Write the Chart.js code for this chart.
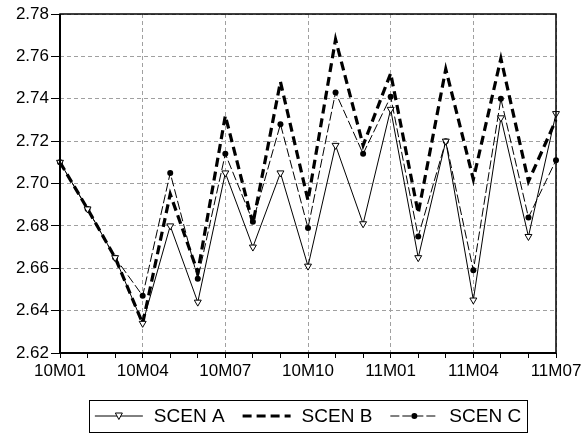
<!DOCTYPE html>
<html>
<head>
<meta charset="utf-8">
<script src="https://cdn.jsdelivr.net/npm/chart.js@4.4.1/dist/chart.umd.min.js"></script>
<style>
  body { margin: 0; background: #fff; }
  #chart { display: block; }
</style>
</head>
<body>
<canvas id="chart" width="586" height="434"></canvas>
<script>
// monthly periods, EViews style
var months = ['10M01', '10M02', '10M03', '10M04', '10M05', '10M06', '10M07', '10M08', '10M09', '10M10',
    '10M11', '10M12', '11M01', '11M02', '11M03', '11M04', '11M05', '11M06', '11M07'];

var scenA = [2.710, 2.688, 2.665, 2.634, 2.680, 2.644, 2.705, 2.670, 2.705, 2.661,
    2.718, 2.681, 2.735, 2.665, 2.720, 2.645, 2.731, 2.675, 2.733];
var scenB = [2.710, 2.688, 2.665, 2.634, 2.695, 2.658, 2.732, 2.681, 2.748, 2.692,
    2.768, 2.718, 2.752, 2.686, 2.754, 2.702, 2.759, 2.701, 2.730];
var scenC = [2.710, 2.688, 2.665, 2.647, 2.705, 2.655, 2.714, 2.682, 2.728, 2.679,
    2.743, 2.714, 2.741, 2.675, 2.720, 2.659, 2.740, 2.684, 2.711];

var seriesNames = ['SCEN A', 'SCEN B', 'SCEN C'];
var yMin = 2.62, yMax = 2.78, yStep = 0.02;

var axisFont = { family: 'Liberation Sans, Arial, sans-serif', size: 17 };
var gridColor = '#a0a0a0';

// box around the plot area
var framePlugin = {
    id: 'frame',
    afterDraw: function (chart) {
        var ctx = chart.ctx, a = chart.chartArea;
        ctx.save();
        ctx.strokeStyle = '#000';
        ctx.lineWidth = 1.5;
        ctx.strokeRect(a.left, a.top, a.right - a.left, a.bottom - a.top);
        ctx.lineWidth = 2;
        ctx.beginPath();
        ctx.moveTo(a.left, a.top);
        ctx.lineTo(a.left, a.bottom);
        ctx.lineTo(a.right, a.bottom);
        ctx.stroke();
        ctx.restore();
    }
};

// legend in a box under the x axis
var boxLegend = {
    id: 'boxLegend',
    afterDraw: function (chart) {
        var ctx = chart.ctx, a = chart.chartArea;
        var sample = 48, gap = 11, spacing = 18, pad = 6;
        ctx.save();
        ctx.font = '19px Liberation Sans, Arial, sans-serif';
        var widths = chart.data.datasets.map(function (ds) { return ctx.measureText(ds.label).width; });
        var total = pad * 2;
        widths.forEach(function (w, i) { total += sample + gap + w + (i < widths.length - 1 ? spacing : 0); });
        var x0 = (a.left + a.right) / 2 - total / 2;
        var top = 400, bottom = 432, cy = (top + bottom) / 2;
        ctx.strokeStyle = '#000';
        ctx.lineWidth = 1;
        ctx.strokeRect(Math.round(x0) + 0.5, top + 0.5, Math.round(total), bottom - top);
        var x = x0 + pad;
        chart.data.datasets.forEach(function (ds, i) {
            ctx.save();
            ctx.strokeStyle = '#000';
            ctx.lineWidth = ds.borderWidth;
            ctx.setLineDash(ds.borderDash || []);
            ctx.beginPath();
            ctx.moveTo(x, cy);
            ctx.lineTo(x + sample, cy);
            ctx.stroke();
            ctx.setLineDash([]);
            var mx = x + sample / 2;
            if (ds.pointStyle === 'triangle') {
                ctx.fillStyle = '#fff';
                ctx.lineWidth = 1;
                ctx.beginPath();
                ctx.moveTo(mx - 3.5, cy - 3);
                ctx.lineTo(mx + 3.5, cy - 3);
                ctx.lineTo(mx, cy + 3.5);
                ctx.closePath();
                ctx.fill();
                ctx.stroke();
            } else if (ds.pointStyle === 'circle') {
                ctx.fillStyle = '#000';
                ctx.beginPath();
                ctx.arc(mx, cy, 3, 0, Math.PI * 2);
                ctx.fill();
            }
            ctx.restore();
            x += sample + gap;
            ctx.fillStyle = '#000';
            ctx.textBaseline = 'middle';
            ctx.fillText(ds.label, x, cy + 1);
            x += widths[i] + spacing;
        });
        ctx.restore();
    }
};

new Chart(document.getElementById('chart'), {
    type: 'line',
    data: {
        labels: months,
        datasets: [{
            label: seriesNames[0],
            data: scenA,
            borderColor: '#000',
            borderWidth: 1,
            pointStyle: 'triangle',
            rotation: 180,
            pointRadius: 4,
            pointBackgroundColor: '#fff',
            pointBorderColor: '#000',
            pointBorderWidth: 1,
            tension: 0,
            order: 1
        }, {
            label: seriesNames[1],
            data: scenB,
            borderColor: '#000',
            borderWidth: 3.2,
            borderDash: [9, 5],
            pointRadius: 0,
            tension: 0,
            order: 3
        }, {
            label: seriesNames[2],
            data: scenC,
            borderColor: '#000',
            borderWidth: 1,
            borderDash: [9, 3],
            pointStyle: 'circle',
            pointRadius: 3,
            pointBackgroundColor: '#000',
            pointBorderColor: '#000',
            pointBorderWidth: 0,
            tension: 0,
            order: 2
        }]
    },
    options: {
        responsive: false,
        animation: false,
        layout: { padding: { top: 14, right: 30, left: 0, bottom: 0 } },
        plugins: {
            legend: { display: false },
            tooltip: { enabled: false }
        },
        scales: {
            x: {
                grid: {
                    color: function (c) { return c.index % 3 === 0 ? gridColor : 'transparent'; },
                    tickColor: '#000',
                    tickLength: 5
                },
                border: { display: false, dash: [4, 3] },
                ticks: {
                    autoSkip: false,
                    maxRotation: 0,
                    padding: 3,
                    color: '#000',
                    font: axisFont,
                    callback: function (v, i) { return i % 3 === 0 ? months[i] : ''; }
                },
                afterFit: function (scale) { scale.height = 81; }
            },
            y: {
                min: yMin,
                max: yMax,
                grid: {
                    color: gridColor,
                    tickColor: '#000',
                    tickLength: 9
                },
                border: { display: false, dash: [4, 3] },
                ticks: {
                    stepSize: yStep,
                    padding: 2,
                    color: '#000',
                    font: axisFont,
                    callback: function (v) { return v.toFixed(2); }
                },
                afterFit: function (scale) { scale.width = 60; }
            }
        }
    },
    plugins: [framePlugin, boxLegend]
});
</script>
</body>
</html>
